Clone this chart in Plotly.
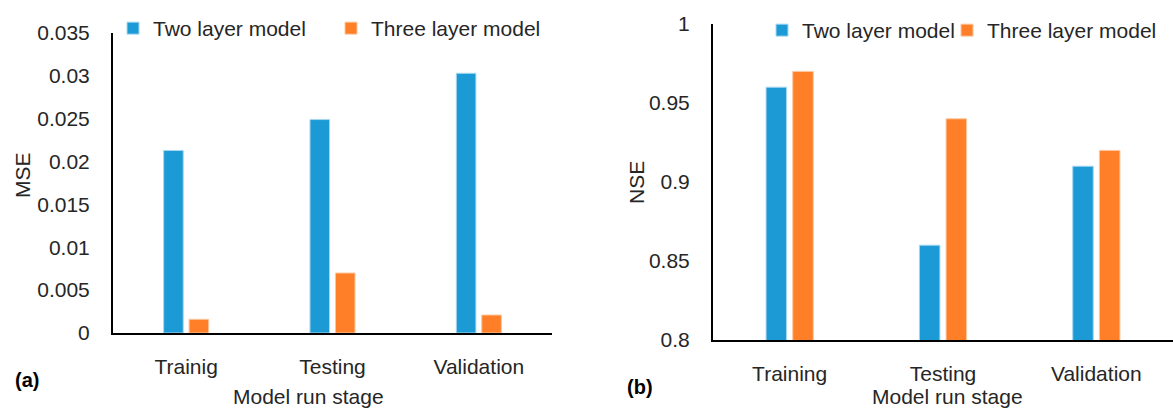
import plotly.graph_objects as go

# Model run stages for each panel
stages_mse = ["Trainig", "Testing", "Validation"]
stages_nse = ["Training", "Testing", "Validation"]

# (a) Mean squared error
mse_two = [0.0213, 0.0249, 0.0303]
mse_three = [0.0016, 0.0070, 0.0021]

# (b) Nash-Sutcliffe efficiency
nse_two = [0.96, 0.86, 0.91]
nse_three = [0.97, 0.94, 0.92]

series_names = ["Two layer model", "Three layer model"]
BLUE = "#1c9ad6"
ORANGE = "#fe7f27"
TEXT = "#262626"
FONT = "Liberation Sans, Arial, sans-serif"
FS = 21

W, H = 1173, 408


def px_x(x):
    return x / W


def px_y(y):
    return 1 - y / H


fig = go.Figure()

# Panel (a)
fig.add_trace(go.Bar(x=stages_mse, y=mse_two, name=series_names[0],
                     marker=dict(color=BLUE, line=dict(color="#a8d8f0", width=1)),
                     xaxis="x", yaxis="y", legend="legend"))
fig.add_trace(go.Bar(x=stages_mse, y=mse_three, name=series_names[1],
                     marker=dict(color=ORANGE, line=dict(color="#fcc7a0", width=1)),
                     xaxis="x", yaxis="y", legend="legend3"))

# Panel (b)
fig.add_trace(go.Bar(x=stages_nse, y=nse_two, name=series_names[0],
                     marker=dict(color=BLUE, line=dict(color="#a8d8f0", width=1)),
                     xaxis="x2", yaxis="y2", legend="legend2"))
fig.add_trace(go.Bar(x=stages_nse, y=nse_three, name=series_names[1],
                     marker=dict(color=ORANGE, line=dict(color="#fcc7a0", width=1)),
                     xaxis="x2", yaxis="y2", legend="legend4"))

axis_common = dict(showline=True, linecolor="black", linewidth=2, showgrid=False,
                   zeroline=False, ticks="", automargin=False,
                   tickfont=dict(family=FONT, size=FS, color=TEXT))


def legend_at(x_px, mid_px):
    # container-referenced so the legends do not push the margins
    return dict(orientation="h", x=px_x(x_px), y=px_y(mid_px), xref="container", yref="container",
                xanchor="left", yanchor="middle",
                font=dict(family=FONT, size=FS, color=TEXT), bgcolor="rgba(0,0,0,0)",
                itemwidth=30, tracegroupgap=0, visible=True)


def note(text, x_px, y_px, angle=0, size=FS, color=TEXT):
    return dict(text=text, x=px_x(x_px), y=px_y(y_px), xref="paper", yref="paper",
                xanchor="center", yanchor="middle", showarrow=False, textangle=angle,
                font=dict(family=FONT, size=size, color=color))


fig.update_layout(
    width=W, height=H,
    margin=dict(l=0, r=0, t=0, b=0, autoexpand=False),
    paper_bgcolor="white", plot_bgcolor="white",
    font=dict(family=FONT, size=FS, color=TEXT),
    showlegend=True,
    barmode="group", bargap=0.652, bargroupgap=0.23,
    xaxis=dict(domain=[px_x(113), px_x(552)], anchor="y", range=[-0.5, 2.5],
               ticklabelstandoff=14, **axis_common),
    yaxis=dict(domain=[px_y(333), px_y(33)], anchor="x", range=[0, 0.035],
               dtick=0.005, tick0=0, ticklabelstandoff=17, **axis_common),
    xaxis2=dict(domain=[px_x(713), 1.0], anchor="y2", range=[-0.5, 2.5],
                ticklabelstandoff=14, **axis_common),
    yaxis2=dict(domain=[px_y(340), px_y(24)], anchor="x2", range=[0.8, 1.0],
                dtick=0.05, tick0=0.8, ticklabelstandoff=17, **axis_common),
    legend=legend_at(113, 28.5),
    legend3=legend_at(331, 28.5),
    legend2=legend_at(762, 30.5),
    legend4=legend_at(947, 30.5),
    annotations=[
        note("Model run stage", 308, 396),
        note("Model run stage", 947, 396),
        note("MSE", 22, 175, angle=-90),
        note("NSE", 637, 183, angle=-90),
        note("<b>(a)</b>", 27, 380, size=20, color="black"),
        note("<b>(b)</b>", 640, 387, size=20, color="black"),
    ],
)

fig.write_html("out.html")
